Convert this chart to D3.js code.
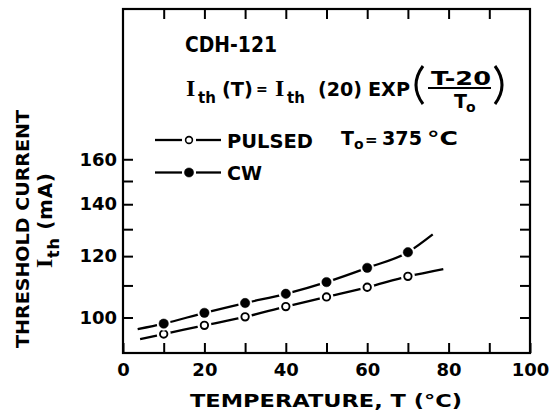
<!DOCTYPE html>
<html><head><meta charset="utf-8">
<script src="https://cdn.jsdelivr.net/npm/d3@7/dist/d3.min.js"></script>
<style>body{margin:0;background:#fff} svg{display:block}</style>
</head><body><svg id="c" width="552" height="417"></svg>
<script>
// ---- data ----
const temps = [10, 20, 30, 40, 50, 60, 70];
const pulsed = [95.2, 97.7, 100.2, 103.3, 106.3, 109.4, 113.0];
const cw = [98.2, 101.4, 104.4, 107.3, 111.1, 115.9, 121.4];
const pulsedFitT = [4.2, 10, 20, 30, 40, 50, 60, 70, 78.7];
const pulsedFitI = [93.8, 95.2, 97.7, 100.2, 103.3, 106.3, 109.4, 113.0, 115.5];
const cwFitT = [3.6, 10, 20, 30, 40, 50, 60, 70, 76.1];
const cwFitI = [96.6, 98.2, 101.4, 104.4, 107.3, 111.1, 115.9, 121.4, 128.0];
const xTicks = [0, 10, 20, 30, 40, 50, 60, 70, 80, 90, 100];
const xLabels = [0, 20, 40, 60, 80, 100];
const yTicks = [100, 110, 120, 130, 140, 150, 160];
const yLabels = [100, 120, 140, 160];

const svg = d3.select('#c');
const L = 123, R = 530, T = 9, B = 353;
const x = d3.scaleLinear().domain([0, 100]).range([L, R]);
const y = d3.scaleLog().domain([90, 250]).range([B, T]);
const FONT = '"DejaVu Sans", sans-serif';

function styleAxis(g) {
  g.select('.domain').remove();
  g.selectAll('.tick line').attr('stroke', '#000').attr('stroke-width', 2);
  g.selectAll('text').attr('font-family', FONT).attr('font-weight', 'bold')
    .attr('font-size', 18).attr('fill', '#000');
}
svg.append('g').attr('transform', `translate(0,${B})`)
  .call(d3.axisBottom(x).tickValues(xTicks).tickSize(-10).tickPadding(10)
    .tickFormat(d => xLabels.includes(d) ? d : ''))
  .call(styleAxis);
svg.append('g').attr('transform', `translate(0,${T})`)
  .call(d3.axisTop(x).tickValues(xTicks.slice(1, -1)).tickSize(-10).tickFormat(''))
  .call(styleAxis);
svg.append('g').attr('transform', `translate(${L},0)`)
  .call(d3.axisLeft(y).tickValues(yTicks).tickSize(-10).tickPadding(6)
    .tickFormat(d => yLabels.includes(d) ? d : ''))
  .call(styleAxis);
svg.append('g').attr('transform', `translate(${R},0)`)
  .call(d3.axisRight(y).tickValues(yTicks).tickSize(-10).tickFormat(''))
  .call(styleAxis);

svg.append('rect').attr('x', L).attr('y', T).attr('width', R - L).attr('height', B - T)
  .attr('fill', 'none').attr('stroke', '#000').attr('stroke-width', 2.2);

// curves
const line = d3.line().x(d => x(d[0])).y(d => y(d[1])).curve(d3.curveMonotoneX);
svg.append('path').datum(pulsedFitT.map((t, i) => [t, pulsedFitI[i]]))
  .attr('d', line).attr('fill', 'none').attr('stroke', '#000').attr('stroke-width', 2.3);
svg.append('path').datum(cwFitT.map((t, i) => [t, cwFitI[i]]))
  .attr('d', line).attr('fill', 'none').attr('stroke', '#000').attr('stroke-width', 2.3);

// markers with white gaps
function markers(vals, filled) {
  const g = svg.append('g');
  const pts = temps.map((t, i) => [x(t), y(vals[i])]);
  g.selectAll('.gap').data(pts).join('circle').attr('cx', d => d[0]).attr('cy', d => d[1])
    .attr('r', 7).attr('fill', '#fff');
  g.selectAll('.m').data(pts).join('circle').attr('cx', d => d[0]).attr('cy', d => d[1])
    .attr('r', filled ? 4.7 : 3.7).attr('fill', filled ? '#000' : '#fff')
    .attr('stroke', '#000').attr('stroke-width', filled ? 0.5 : 1.9);
}
markers(pulsed, false);
markers(cw, true);

// legend
function legendRow(cy, filled, label, len) {
  svg.append('line').attr('x1', 155).attr('x2', 182).attr('y1', cy).attr('y2', cy)
    .attr('stroke', '#000').attr('stroke-width', 2.3);
  svg.append('line').attr('x1', 196).attr('x2', 221).attr('y1', cy).attr('y2', cy)
    .attr('stroke', '#000').attr('stroke-width', 2.3);
  svg.append('circle').attr('cx', 189).attr('cy', cy).attr('r', filled ? 4.6 : 3.4)
    .attr('fill', filled ? '#000' : '#fff').attr('stroke', '#000').attr('stroke-width', filled ? 0.5 : 1.6);
  svg.append('text').attr('x', 227).attr('y', cy + 7.5).text(label)
    .attr('font-family', FONT).attr('font-weight', 'bold').attr('font-size', 20)
    .attr('textLength', len).attr('lengthAdjust', 'spacingAndGlyphs');
}
legendRow(140, false, 'PULSED', 86);
legendRow(172.5, true, 'CW', 35);

function txt(xp, yp, s, size, extra) {
  const t = svg.append('text').attr('x', xp).attr('y', yp).text(s)
    .attr('font-family', FONT).attr('font-weight', 'bold').attr('font-size', size).attr('fill', '#000');
  if (extra) extra(t);
  return t;
}
// T0 = 375 °C
txt(341, 145, 'T', 19);
txt(354, 149, 'o', 14);
txt(365, 145, '=', 15);
txt(382, 145, '375', 19, t => t.attr('textLength', 40).attr('lengthAdjust', 'spacingAndGlyphs'));
txt(427, 145, '°C', 19, t => t.attr('textLength', 31).attr('lengthAdjust', 'spacingAndGlyphs'));

// CDH-121
txt(185, 52, 'CDH-121', 22, t => t.attr('textLength', 92).attr('lengthAdjust', 'spacingAndGlyphs'));

// formula
const SERIF = '"Liberation Serif", serif';
txt(186, 96, 'I', 24, t => t.attr('font-family', SERIF));
txt(198, 103, 'th', 15);
txt(222, 96, '(T)', 20, t => t.attr('textLength', 31).attr('lengthAdjust', 'spacingAndGlyphs'));
txt(256, 94, '=', 14);
txt(275, 96, 'I', 24, t => t.attr('font-family', SERIF));
txt(287, 103, 'th', 15);
txt(318, 96, '(20)', 20, t => t.attr('textLength', 44).attr('lengthAdjust', 'spacingAndGlyphs'));
txt(368, 96, 'EXP', 20, t => t.attr('textLength', 42).attr('lengthAdjust', 'spacingAndGlyphs'));
txt(431, 85, 'T-20', 20, t => t.attr('textLength', 60).attr('lengthAdjust', 'spacingAndGlyphs'));
svg.append('line').attr('x1', 428).attr('x2', 491).attr('y1', 88).attr('y2', 88)
  .attr('stroke', '#000').attr('stroke-width', 2);
txt(454, 108, 'T', 19);
txt(466, 112, 'o', 14);
svg.append('path').attr('d', 'M 423 66 Q 409 85 423 104').attr('fill', 'none')
  .attr('stroke', '#000').attr('stroke-width', 3);
svg.append('path').attr('d', 'M 495 66 Q 509 85 495 104').attr('fill', 'none')
  .attr('stroke', '#000').attr('stroke-width', 3);

// axis titles
txt(326, 407, 'TEMPERATURE, T (°C)', 17, t => t.attr('text-anchor', 'middle')
  .attr('textLength', 272).attr('lengthAdjust', 'spacingAndGlyphs'));
const yt = svg.append('g').attr('transform', 'translate(29,229) rotate(-90)');
yt.append('text').attr('x', 0).attr('y', 0).attr('text-anchor', 'middle').text('THRESHOLD CURRENT')
  .attr('font-family', FONT).attr('font-weight', 'bold').attr('font-size', 18)
  .attr('textLength', 238).attr('lengthAdjust', 'spacingAndGlyphs');
const yt2 = svg.append('g').attr('transform', 'translate(52,268) rotate(-90)');
const t2 = yt2.append('text').attr('x', 0).attr('y', 0)
  .attr('font-family', FONT).attr('font-weight', 'bold').attr('font-size', 20)
  .attr('textLength', 95).attr('lengthAdjust', 'spacing');
t2.append('tspan').text('I').attr('font-family', SERIF).attr('font-size', 24);
t2.append('tspan').text('th').attr('dy', 7).attr('font-size', 16);
t2.append('tspan').text(' (mA)').attr('dy', -7);
</script></body></html>
